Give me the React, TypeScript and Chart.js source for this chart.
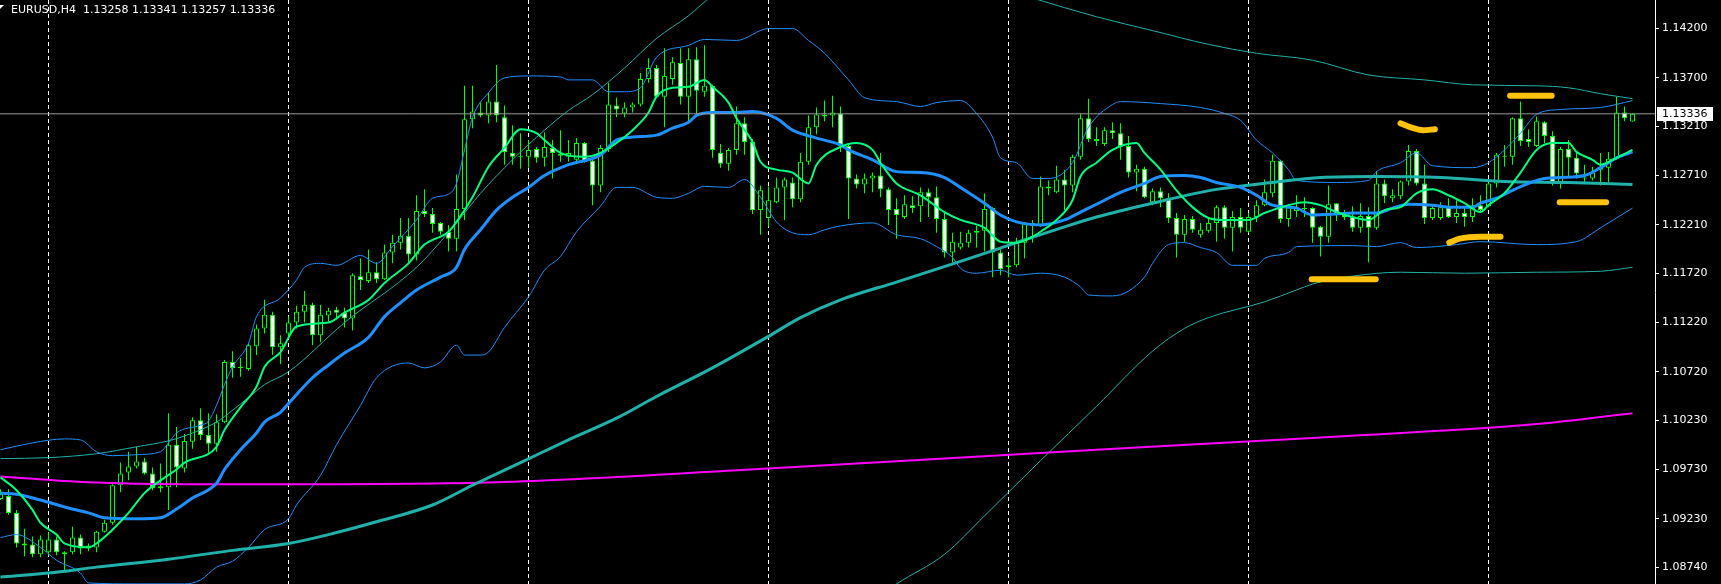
import React, { useEffect, useRef } from 'react';
import { Chart, registerables } from 'chart.js';

Chart.register(...registerables);

const SYMBOL = 'EURUSD,H4';
const LAST_OHLC = [1.13258, 1.13341, 1.13257, 1.13336];
const Y_TICKS = [1.142, 1.137, 1.1321, 1.1271, 1.1221, 1.1172, 1.1122, 1.1072, 1.1023, 1.0973, 1.0923, 1.0874];
const Y_MIN = 1.08569;
const Y_MAX = 1.1449;
const X_MIN = -0.0625;
const X_MAX = 206.8125;
const GRID_BARS = [6, 36, 66, 96, 126, 156, 186];

const OPEN = [
  1.0943,1.0946,1.0929,1.0898,1.0897,1.0887,1.0889,1.0902,1.0889,1.0889,
  1.0904,1.0896,1.0894,1.0910,1.0919,1.0957,1.0970,1.0976,1.0981,1.0969,
  1.0956,1.0955,1.0998,1.0974,1.1001,1.1023,1.1008,1.0999,1.1021,1.1082,
  1.1077,1.1075,1.1098,1.1116,1.1130,1.1097,1.1111,1.1122,1.1133,1.1140,
  1.1109,1.1129,1.1135,1.1132,1.1126,1.1169,1.1164,1.1173,1.1166,1.1193,
  1.1203,1.1210,1.1191,1.1235,1.1232,1.1223,1.1214,1.1207,1.1237,1.1328,
  1.1335,1.1332,1.1346,1.1330,1.1294,1.1291,1.1290,1.1298,1.1289,1.1299,
  1.1293,1.1290,1.1287,1.1304,1.1286,1.1261,1.1298,1.1342,1.1334,1.1340,
  1.1343,1.1369,1.1380,1.1351,1.1369,1.1385,1.1351,1.1389,1.1356,1.1362,
  1.1294,1.1283,1.1297,1.1324,1.1305,1.1236,1.1228,1.1244,1.1259,1.1264,
  1.1247,1.1285,1.1320,1.1331,1.1332,1.1334,1.1301,1.1268,1.1262,1.1268,
  1.1271,1.1257,1.1237,1.1229,1.1241,1.1240,1.1254,1.1249,1.1227,1.1193,
  1.1198,1.1203,1.1215,1.1215,1.1238,1.1193,1.1180,1.1180,1.1203,1.1223,
  1.1221,1.1260,1.1254,1.1267,1.1261,1.1290,1.1329,1.1308,1.1303,1.1317,
  1.1314,1.1301,1.1274,1.1278,1.1244,1.1255,1.1248,1.1228,1.1211,1.1227,
  1.1211,1.1215,1.1223,1.1239,1.1218,1.1229,1.1214,1.1229,1.1241,1.1253,
  1.1286,1.1227,1.1235,1.1238,1.1238,1.1219,1.1209,1.1243,1.1231,1.1229,
  1.1218,1.1230,1.1218,1.1263,1.1248,1.1250,1.1265,1.1296,1.1263,1.1228,
  1.1228,1.1239,1.1229,1.1233,1.1229,1.1241,1.1240,1.1263,1.1291,1.1290,
  1.1329,1.1308,1.1301,1.1325,1.1311,1.1263,1.1298,1.1289,1.1269,1.1268,
  1.1277,1.1279,1.1288,1.1335,1.13258,
];
const HIGH = [
  1.0953,1.0953,1.0932,1.0913,1.0905,1.0906,1.0909,1.0905,1.0890,1.0915,
  1.0907,1.0898,1.0911,1.0922,1.0958,1.0980,1.0991,1.0996,1.0985,1.0975,
  1.0979,1.1030,1.1016,1.1009,1.1026,1.1035,1.1030,1.1029,1.1084,1.1093,
  1.1086,1.1101,1.1120,1.1145,1.1133,1.1109,1.1128,1.1139,1.1154,1.1142,
  1.1140,1.1137,1.1138,1.1137,1.1172,1.1187,1.1196,1.1183,1.1201,1.1211,
  1.1228,1.1228,1.1251,1.1257,1.1238,1.1224,1.1221,1.1272,1.1362,1.1362,
  1.1345,1.1355,1.1383,1.1342,1.1322,1.1314,1.1307,1.1300,1.1315,1.1307,
  1.1317,1.1307,1.1309,1.1305,1.1290,1.1302,1.1365,1.1350,1.1345,1.1345,
  1.1375,1.1390,1.1383,1.1400,1.1391,1.1400,1.1400,1.1401,1.1403,1.1363,
  1.1303,1.1299,1.1341,1.1330,1.1308,1.1261,1.1260,1.1269,1.1269,1.1269,
  1.1294,1.1332,1.1340,1.1347,1.1352,1.1341,1.1304,1.1272,1.1273,1.1274,
  1.1294,1.1259,1.1248,1.1251,1.1250,1.1259,1.1258,1.1260,1.1234,1.1213,
  1.1214,1.1216,1.1220,1.1253,1.1239,1.1196,1.1188,1.1208,1.1224,1.1226,
  1.1270,1.1266,1.1281,1.1277,1.1292,1.1334,1.1349,1.1320,1.1320,1.1325,
  1.1324,1.1311,1.1282,1.1280,1.1258,1.1259,1.1253,1.1233,1.1231,1.1230,
  1.1223,1.1227,1.1241,1.1241,1.1235,1.1238,1.1233,1.1246,1.1267,1.1292,
  1.1287,1.1242,1.1251,1.1249,1.1239,1.1220,1.1261,1.1243,1.1236,1.1240,
  1.1243,1.1239,1.1275,1.1267,1.1257,1.1266,1.1302,1.1298,1.1282,1.1241,
  1.1244,1.1248,1.1246,1.1238,1.1248,1.1251,1.1264,1.1294,1.1302,1.1330,
  1.1346,1.1318,1.1331,1.1326,1.1316,1.1300,1.1307,1.1294,1.1282,1.1280,
  1.1294,1.1295,1.1351,1.1341,1.13341,
];
const LOW = [
  1.0942,1.0927,1.0894,1.0885,1.0884,1.0884,1.0886,1.0886,1.0869,1.0887,
  1.0887,1.0890,1.0889,1.0909,1.0917,1.0950,1.0962,1.0974,1.0968,1.0952,
  1.0950,1.0932,1.0955,1.0970,1.0994,1.1003,1.0990,1.0991,1.1020,1.1066,
  1.1067,1.1073,1.1089,1.1111,1.1089,1.1080,1.1106,1.1116,1.1122,1.1099,
  1.1102,1.1123,1.1125,1.1117,1.1114,1.1155,1.1162,1.1162,1.1165,1.1182,
  1.1196,1.1183,1.1185,1.1229,1.1213,1.1211,1.1194,1.1194,1.1226,1.1319,
  1.1330,1.1324,1.1325,1.1282,1.1282,1.1278,1.1279,1.1284,1.1280,1.1268,
  1.1285,1.1285,1.1284,1.1284,1.1241,1.1254,1.1295,1.1330,1.1330,1.1335,
  1.1341,1.1365,1.1350,1.1320,1.1363,1.1343,1.1324,1.1334,1.1351,1.1289,
  1.1279,1.1276,1.1292,1.1292,1.1232,1.1211,1.1219,1.1243,1.1226,1.1239,
  1.1244,1.1282,1.1313,1.1326,1.1320,1.1295,1.1227,1.1258,1.1253,1.1254,
  1.1249,1.1221,1.1207,1.1227,1.1233,1.1224,1.1229,1.1213,1.1188,1.1183,
  1.1196,1.1198,1.1198,1.1194,1.1168,1.1170,1.1168,1.1178,1.1187,1.1203,
  1.1219,1.1251,1.1253,1.1236,1.1254,1.1287,1.1305,1.1301,1.1301,1.1308,
  1.1287,1.1269,1.1255,1.1248,1.1241,1.1239,1.1223,1.1188,1.1204,1.1213,
  1.1208,1.1213,1.1204,1.1207,1.1194,1.1213,1.1213,1.1224,1.1240,1.1249,
  1.1223,1.1219,1.1229,1.1229,1.1203,1.1189,1.1203,1.1225,1.1226,1.1214,
  1.1213,1.1183,1.1216,1.1243,1.1244,1.1247,1.1261,1.1261,1.1222,1.1226,
  1.1226,1.1228,1.1223,1.1219,1.1224,1.1233,1.1239,1.1259,1.1280,1.1282,
  1.1301,1.1300,1.1300,1.1304,1.1261,1.1258,1.1270,1.1268,1.1264,1.1266,
  1.1261,1.1264,1.1287,1.1326,1.13257,
];
const CLOSE = [
  1.0948,1.0929,1.0898,1.0896,1.0887,1.0902,1.0902,1.0889,1.0887,1.0904,
  1.0893,1.0894,1.0910,1.0919,1.0957,1.0969,1.0976,1.0981,1.0969,1.0954,
  1.0954,1.0998,1.0975,1.1002,1.1023,1.1008,1.0999,1.1021,1.1082,1.1076,
  1.1076,1.1099,1.1116,1.1130,1.1097,1.1101,1.1122,1.1133,1.1140,1.1109,
  1.1130,1.1134,1.1132,1.1126,1.1170,1.1165,1.1173,1.1166,1.1193,1.1203,
  1.1210,1.1191,1.1235,1.1232,1.1222,1.1214,1.1207,1.1237,1.1328,1.1336,
  1.1332,1.1346,1.1332,1.1295,1.1290,1.1290,1.1297,1.1289,1.1300,1.1294,
  1.1291,1.1294,1.1304,1.1285,1.1261,1.1299,1.1343,1.1338,1.1340,1.1343,
  1.1369,1.1380,1.1351,1.1372,1.1386,1.1351,1.1389,1.1357,1.1362,1.1297,
  1.1283,1.1297,1.1324,1.1305,1.1236,1.1256,1.1246,1.1259,1.1267,1.1247,
  1.1285,1.1320,1.1333,1.1333,1.1335,1.1301,1.1268,1.1262,1.1268,1.1271,
  1.1257,1.1236,1.1231,1.1242,1.1238,1.1254,1.1249,1.1227,1.1193,1.1204,
  1.1203,1.1213,1.1213,1.1237,1.1193,1.1176,1.1178,1.1203,1.1223,1.1220,
  1.1260,1.1258,1.1267,1.1261,1.1290,1.1329,1.1308,1.1306,1.1317,1.1314,
  1.1301,1.1274,1.1278,1.1249,1.1255,1.1248,1.1228,1.1211,1.1227,1.1216,
  1.1216,1.1223,1.1239,1.1218,1.1229,1.1218,1.1229,1.1241,1.1254,1.1286,
  1.1227,1.1241,1.1238,1.1237,1.1218,1.1209,1.1242,1.1232,1.1229,1.1218,
  1.1230,1.1218,1.1263,1.1250,1.1251,1.1265,1.1296,1.1263,1.1228,1.1238,
  1.1239,1.1229,1.1233,1.1229,1.1241,1.1236,1.1263,1.1292,1.1290,1.1329,
  1.1306,1.1305,1.1326,1.1311,1.1263,1.1298,1.1289,1.1273,1.1268,1.1274,
  1.1279,1.1288,1.1335,1.1329,1.13336,
];

// indicator lines: [bar index, price]
const MA_FAST: [number, number][] = [
  [0,1.0965],[2,1.0952],[4,1.0932],[5,1.0919],[7,1.0907],[8,1.0898],[11,1.0894],[12,1.0898],[14,1.0912],[16,1.0929],
  [18,1.0949],[20,1.0962],[22,1.0973],[23,1.0980],[27,1.0996],[28,1.1013],[30,1.1036],[32,1.1057],[33,1.1077],[35,1.1092],
  [37,1.1118],[41,1.1122],[43,1.1132],[46,1.1145],[48,1.1162],[51,1.1182],[53,1.1201],[56,1.1214],[57,1.1224],[59,1.1249],
  [61,1.1280],[63,1.1299],[65,1.1318],[67,1.1314],[68,1.1307],[70,1.1294],[73,1.1290],[75,1.1294],[77,1.1304],[79,1.1317],
  [81,1.1335],[82,1.1351],[84,1.1360],[86,1.1361],[88,1.1368],[89,1.1361],[91,1.1345],[92,1.1329],[94,1.1305],[95,1.1285],
  [97,1.1277],[99,1.1274],[101,1.1263],[102,1.1282],[105,1.1300],[107,1.1304],[109,1.1297],[110,1.1284],[112,1.1263],[115,1.1251],
  [118,1.1234],[120,1.1226],[123,1.1218],[125,1.1204],[127,1.1203],[129,1.1209],[130,1.1214],[132,1.1226],[134,1.1246],[135,1.1270],
  [137,1.1284],[139,1.1297],[142,1.1304],[143,1.1294],[145,1.1277],[147,1.1256],[149,1.1239],[151,1.1228],[153,1.1226],[156,1.1226],
  [158,1.1233],[161,1.1241],[163,1.1244],[165,1.1241],[167,1.1234],[169,1.1229],[171,1.1226],[173,1.1236],[175,1.1239],[177,1.1253],
  [179,1.1257],[181,1.1251],[183,1.1243],[185,1.1234],[186,1.1241],[188,1.1253],[190,1.1274],[192,1.1297],[194,1.1304],[196,1.1304],
  [197,1.1295],[199,1.1287],[200,1.1282],[202,1.1289],[204,1.1297],
];
const MA_MID: [number, number][] = [
  [0,1.0949],[2,1.0948],[5,1.0942],[8,1.0935],[11,1.0929],[13,1.0924],[17,1.0923],[20,1.0924],[22,1.0933],[24,1.0944],
  [27,1.0959],[28,1.0973],[30,1.0993],[32,1.1010],[33,1.1021],[35,1.1031],[36,1.1040],[39,1.1066],[41,1.1079],[43,1.1091],
  [46,1.1107],[48,1.1128],[50,1.1142],[52,1.1155],[55,1.1168],[57,1.1178],[58,1.1196],[60,1.1216],[62,1.1236],[64,1.1249],
  [66,1.1259],[68,1.1271],[71,1.1282],[75,1.1292],[77,1.1307],[79,1.1310],[82,1.1312],[84,1.1319],[86,1.1325],[87,1.1332],
  [89,1.1335],[92,1.1335],[94,1.1336],[97,1.1329],[99,1.1317],[102,1.1309],[105,1.1302],[106,1.1297],[109,1.1287],[112,1.1275],
  [115,1.1274],[118,1.1269],[120,1.1259],[123,1.1243],[125,1.1231],[127,1.1224],[130,1.1221],[133,1.1226],[135,1.1234],[138,1.1246],
  [140,1.1254],[143,1.1263],[145,1.1270],[148,1.1271],[150,1.1269],[152,1.1264],[155,1.1259],[157,1.1251],[159,1.1241],[162,1.1238],
  [164,1.1231],[167,1.1232],[169,1.1233],[172,1.1233],[174,1.1238],[176,1.1242],[179,1.1241],[181,1.1239],[184,1.1239],[185,1.1243],
  [187,1.1248],[189,1.1256],[191,1.1263],[193,1.1268],[195,1.1269],[198,1.1271],[200,1.1279],[202,1.1289],[204,1.1295],
];
const MA_SLOW: [number, number][] = [
  [0,1.0864],[6,1.0868],[12,1.0874],[21,1.0882],[29,1.0891],[36,1.0898],[41,1.0907],[47,1.0920],[54,1.0937],[59,1.0957],
  [65,1.0980],[71,1.1003],[77,1.1025],[82,1.1047],[89,1.1076],[96,1.1108],[100,1.1127],[105,1.1145],[112,1.1163],[120,1.1184],
  [127,1.1203],[133,1.1219],[137,1.1229],[144,1.1243],[152,1.1257],[159,1.1264],[165,1.1269],[172,1.1270],[180,1.1269],[188,1.1265],
  [196,1.1264],[204,1.1262],
];
const MA_LONG: [number, number][] = [
  [0,1.0966],[11,1.0960],[23,1.0958],[36,1.0958],[62,1.0960],[96,1.0974],[137,1.0993],[164,1.1005],[192,1.1019],[204,1.1030],
];
const BB_UPPER: [number, number][] = [
  [0,1.0993],[4,1.1000],[8,1.1004],[10,1.1003],[12,1.0991],[14,1.0987],[17,1.0988],[20,1.0991],[21,1.1000],[22,1.1010],
  [25,1.1018],[26,1.1022],[27,1.1038],[28,1.1059],[29,1.1077],[31,1.1101],[32,1.1128],[35,1.1147],[37,1.1165],[38,1.1178],
  [40,1.1182],[42,1.1180],[45,1.1190],[47,1.1182],[49,1.1199],[52,1.1226],[54,1.1248],[56,1.1252],[57,1.1263],[58,1.1297],
  [59,1.1330],[61,1.1355],[63,1.1370],[66,1.1372],[70,1.1371],[71,1.1368],[74,1.1368],[76,1.1356],[78,1.1356],[80,1.1360],
  [82,1.1391],[86,1.1403],[88,1.1409],[92,1.1408],[96,1.1420],[99,1.1420],[101,1.1408],[103,1.1395],[106,1.1368],[108,1.1350],
  [112,1.1346],[115,1.1341],[117,1.1345],[120,1.1347],[122,1.1334],[124,1.1310],[125,1.1289],[127,1.1284],[129,1.1268],[131,1.1268],
  [134,1.1284],[136,1.1320],[139,1.1343],[140,1.1346],[145,1.1344],[150,1.1340],[153,1.1334],[155,1.1327],[157,1.1307],[159,1.1294],
  [161,1.1277],[162,1.1266],[167,1.1264],[171,1.1266],[172,1.1275],[175,1.1284],[177,1.1294],[179,1.1281],[184,1.1279],[186,1.1284],
  [188,1.1297],[190,1.1314],[192,1.1333],[195,1.1338],[200,1.1340],[204,1.1347],
];
const BB_LOWER: [number, number][] = [
  [0,1.0904],[2,1.0907],[5,1.0894],[7,1.0881],[10,1.0868],[11,1.0858],[17,1.0857],[23,1.0857],[25,1.0861],[27,1.0874],
  [29,1.0880],[31,1.0894],[33,1.0912],[36,1.0923],[37,1.0937],[40,1.0967],[42,1.0998],[45,1.1038],[47,1.1066],[51,1.1081],
  [53,1.1076],[55,1.1082],[57,1.1099],[58,1.1089],[60,1.1089],[61,1.1092],[63,1.1117],[66,1.1148],[68,1.1175],[70,1.1189],
  [72,1.1214],[75,1.1240],[77,1.1259],[79,1.1259],[82,1.1249],[84,1.1248],[86,1.1253],[88,1.1260],[91,1.1259],[93,1.1267],
  [95,1.1249],[97,1.1224],[99,1.1213],[101,1.1211],[103,1.1216],[105,1.1220],[109,1.1223],[112,1.1211],[115,1.1207],[117,1.1199],
  [119,1.1188],[120,1.1177],[122,1.1172],[125,1.1175],[127,1.1170],[130,1.1172],[133,1.1168],[135,1.1158],[136,1.1150],[139,1.1149],
  [143,1.1168],[144,1.1182],[146,1.1201],[148,1.1203],[150,1.1198],[152,1.1193],[154,1.1180],[157,1.1180],[158,1.1187],[161,1.1193],
  [162,1.1199],[169,1.1200],[172,1.1199],[175,1.1203],[177,1.1198],[182,1.1201],[185,1.1204],[192,1.1201],[197,1.1204],[200,1.1218],
  [202,1.1228],[204,1.1238],
];
const BB2_UPPER: [number, number][] = [
  [0,1.0984],[6,1.0985],[12,1.0989],[17,1.0996],[21,1.1002],[23,1.1007],[27,1.1021],[29,1.1033],[31,1.1046],[33,1.1059],
  [36,1.1072],[43,1.1122],[52,1.1178],[57,1.1223],[60,1.1253],[64,1.1287],[68,1.1317],[71,1.1337],[74,1.1353],[78,1.1380],
  [82,1.1410],[86,1.1433],[89,1.1453],[95,1.1472],[110,1.1478],[123,1.1466],[129,1.1451],[137,1.1432],[144,1.1418],[151,1.1404],
  [157,1.1395],[164,1.1388],[171,1.1373],[178,1.1368],[184,1.1363],[192,1.1362],[196,1.1360],[200,1.1354],[204,1.1349],
];
const BB2_LOWER: [number, number][] = [
  [100,1.0760],[107,1.0829],[112,1.0857],[118,1.0887],[123,1.0926],[130,1.0982],[137,1.1037],[144,1.1093],[148,1.1116],[151,1.1127],
  [158,1.1143],[162,1.1155],[164,1.1161],[169,1.1169],[175,1.1173],[183,1.1172],[192,1.1173],[200,1.1174],[204,1.1178],
];

// hand-drawn marks
const MARK_1: [number, number][] = [[188.7,1.1352],[193.9,1.1352]];
const MARK_2: [number, number][] = [[175.0,1.1324],[176.6,1.1319],[177.8,1.1317],[179.3,1.1318]];
const MARK_3: [number, number][] = [[194.9,1.1244],[200.7,1.1244]];
const MARK_4: [number, number][] = [[181.1,1.1203],[182.4,1.1207],[185.0,1.1209],[187.5,1.1209]];
const MARK_5: [number, number][] = [[163.9,1.1166],[171.9,1.1166]];

const CANDLE_GREEN = '#00ff00';

const pts = (arr: [number, number][]) => arr.map(([x, y]) => ({ x, y }));

const lineDs = (data: [number, number][], color: string, width: number, order: number, extra: any = {}) => ({
  type: 'line' as const,
  data: pts(data),
  borderColor: color,
  backgroundColor: color,
  borderWidth: width,
  pointRadius: 0,
  fill: false,
  cubicInterpolationMode: 'monotone' as const,
  order,
  ...extra,
});

const bgPlugin = {
  id: 'bg',
  beforeDraw(chart: any) {
    const ctx = chart.ctx;
    ctx.save();
    ctx.fillStyle = '#000000';
    ctx.fillRect(0, 0, chart.width, chart.height);
    ctx.restore();
  },
};

const overlayPlugin = {
  id: 'overlay',
  afterDraw(chart: any) {
    const ctx = chart.ctx;
    const ys = chart.scales.y;
    ctx.save();
    ctx.font = '11px "DejaVu Sans"';
    ctx.fillStyle = '#ffffff';
    ctx.textAlign = 'left';
    ctx.textBaseline = 'alphabetic';
    ctx.fillText(`${SYMBOL}  ${LAST_OHLC.map((v) => v.toFixed(5)).join(' ')}`, 11, 13);
    ctx.beginPath();
    ctx.moveTo(0, 5);
    ctx.lineTo(4, 5);
    ctx.lineTo(0, 9);
    ctx.closePath();
    ctx.fill();
    const py = ys.getPixelForValue(LAST_OHLC[3]);
    const left = chart.chartArea.right + 2;
    ctx.fillStyle = '#ffffff';
    ctx.fillRect(left, Math.round(py) - 7, 56, 14);
    ctx.fillStyle = '#000000';
    ctx.textBaseline = 'middle';
    ctx.fillText(LAST_OHLC[3].toFixed(5), left + 5, py + 0.5);
    ctx.restore();
  },
};

export default function App() {
  const ref = useRef<HTMLCanvasElement | null>(null);

  useEffect(() => {
    if (!ref.current) return;
    const bodies = OPEN.map((o, i) => ({ x: i, y: [o, CLOSE[i]] }));
    const wicks = LOW.map((l, i) => ({ x: i, y: [l, HIGH[i]] }));
    const bodyFill = OPEN.map((o, i) => (CLOSE[i] < o ? '#ffffff' : '#000000'));

    const chart = new Chart(ref.current, {
      type: 'bar',
      data: {
        datasets: [
          lineDs(MARK_1, '#ffc20e', 6, 0, { borderCapStyle: 'round' }),
          lineDs(MARK_2, '#ffc20e', 6, 0, { borderCapStyle: 'round' }),
          lineDs(MARK_3, '#ffc20e', 6, 0, { borderCapStyle: 'round' }),
          lineDs(MARK_4, '#ffc20e', 6, 0, { borderCapStyle: 'round' }),
          lineDs(MARK_5, '#ffc20e', 6, 0, { borderCapStyle: 'round' }),
          lineDs([[X_MIN - 1, LAST_OHLC[3]], [X_MAX + 1, LAST_OHLC[3]]], '#9a9a9a', 1, 1, { cubicInterpolationMode: 'default', tension: 0 }),
          lineDs(MA_FAST, '#00ff7f', 2, 2),
          lineDs(MA_MID, '#1e90ff', 3, 3),
          lineDs(MA_SLOW, '#20b2aa', 3, 4),
          lineDs(MA_LONG, '#ff00ff', 2, 5),
          lineDs(BB_UPPER, '#1e90ff', 1, 6),
          lineDs(BB_LOWER, '#1e90ff', 1, 6),
          lineDs(BB2_UPPER, '#20b2aa', 1, 7),
          lineDs(BB2_LOWER, '#20b2aa', 1, 7),
          {
            type: 'bar' as const,
            data: bodies as any,
            backgroundColor: bodyFill,
            borderColor: CANDLE_GREEN,
            borderWidth: 1,
            borderSkipped: false,
            barThickness: 5,
            grouped: false,
            inflateAmount: 0,
            order: 8,
          } as any,
          {
            type: 'bar' as const,
            data: wicks as any,
            backgroundColor: CANDLE_GREEN,
            borderWidth: 0,
            barThickness: 1,
            grouped: false,
            inflateAmount: 0,
            order: 9,
          } as any,
        ],
      },
      options: {
        responsive: false,
        animation: false,
        devicePixelRatio: 1,
        events: [],
        layout: { padding: 0 },
        plugins: {
          legend: { display: false },
          tooltip: { enabled: false },
          title: { display: false },
        },
        scales: {
          x: {
            type: 'linear',
            min: X_MIN,
            max: X_MAX,
            offset: false,
            afterBuildTicks: (s: any) => {
              s.ticks = GRID_BARS.map((v) => ({ value: v }));
            },
            ticks: { display: false },
            grid: { display: true, offset: false, color: '#ffffff', lineWidth: 1, drawTicks: false, drawOnChartArea: true },
            border: { display: false, dash: [4, 3] },
            afterFit: (s: any) => {
              s.height = 0;
              s.paddingLeft = 0;
              s.paddingRight = 0;
            },
          },
          y: {
            type: 'linear',
            position: 'right',
            min: Y_MIN,
            max: Y_MAX,
            afterBuildTicks: (s: any) => {
              s.ticks = Y_TICKS.map((v) => ({ value: v }));
            },
            ticks: {
              color: '#ffffff',
              font: { family: 'DejaVu Sans', size: 11 },
              padding: 3,
              autoSkip: false,
              callback: (v: any) => Number(v).toFixed(5),
            },
            grid: { drawOnChartArea: false, drawTicks: true, tickLength: 4, color: '#ffffff', offset: false },
            border: { display: true, color: '#ffffff', width: 1 },
            afterFit: (s: any) => {
              s.width = 66;
              s.paddingTop = 0;
              s.paddingBottom = 0;
            },
          },
        },
      } as any,
      plugins: [bgPlugin, overlayPlugin],
    });
    return () => chart.destroy();
  }, []);

  return (
    <div style={{ position: 'fixed', left: 0, top: 0, width: 1721, height: 584, background: '#000' }}>
      <canvas ref={ref} width={1721} height={584} style={{ display: 'block', width: 1721, height: 584 }} />
    </div>
  );
}
